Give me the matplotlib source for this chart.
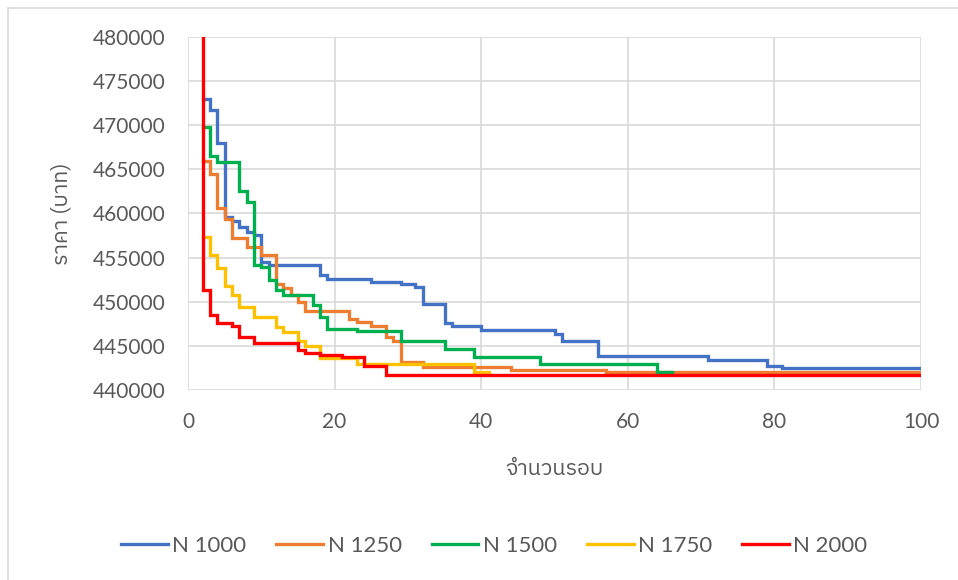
import matplotlib
matplotlib.use('Agg')
import matplotlib.pyplot as plt
from matplotlib.lines import Line2D

# iteration (x) and cost (y) at each step change, last entry = end of run
n1000_x = [2, 3, 4, 5, 6, 7, 8, 9, 10, 11, 18, 19, 25, 29, 31, 32, 35, 36, 40, 50, 51, 56, 71, 75, 79, 81, 100]
n1000_y = [473000, 471700, 468000, 459600, 459200, 458500, 457900, 457600, 454500, 454200, 453000, 452550,
           452250, 452050, 451700, 449800, 447550, 447250, 446800, 446400, 445500, 443800, 443450, 443350,
           442700, 442450, 442450]

n1250_x = [2, 3, 4, 5, 6, 8, 10, 12, 13, 14, 15, 16, 22, 23, 25, 27, 28, 29, 32, 44, 57, 100]
n1250_y = [466000, 464500, 460600, 459400, 457200, 456200, 455300, 452000, 451600, 450800, 450000, 448900,
           448100, 447700, 447200, 446000, 445600, 443200, 442550, 442250, 442050, 442050]

n1500_x = [2, 3, 4, 7, 8, 9, 10, 11, 12, 13, 17, 18, 19, 23, 29, 35, 39, 48, 64, 66]
n1500_y = [469800, 466500, 465800, 462600, 461300, 454200, 453950, 452450, 451300, 450750, 449600, 448300,
           446950, 446700, 445600, 444700, 443750, 442950, 442050, 442050]

n1750_x = [2, 3, 4, 5, 6, 7, 9, 12, 13, 15, 16, 18, 23, 39, 41]
n1750_y = [457300, 455300, 453800, 451800, 450750, 449450, 448300, 447100, 446600, 445600, 445000, 443600,
           443000, 442050, 442050]

n2000_x = [2, 2, 3, 4, 6, 7, 9, 15, 16, 18, 21, 24, 27, 100]
n2000_y = [520000, 451300, 448500, 447600, 447250, 446000, 445300, 444500, 444200, 443950, 443700, 442700,
           441650, 441650]

series = [
    ('N 1000', n1000_x, n1000_y, '#4472C4'),
    ('N 1250', n1250_x, n1250_y, '#ED7D31'),
    ('N 1500', n1500_x, n1500_y, '#00B050'),
    ('N 1750', n1750_x, n1750_y, '#FFC000'),
    ('N 2000', n2000_x, n2000_y, '#FF0000'),
]

plt.rcParams['font.family'] = ['Lato', 'IBM Plex Sans Thai', 'DejaVu Sans']
text_col = '#595959'
thai = ['IBM Plex Sans Thai', 'Lato', 'DejaVu Sans']

fig = plt.figure(figsize=(9.58, 5.8), dpi=100)
ax = fig.add_axes([188 / 958, 1 - 390 / 580, (921 - 188) / 958, (390 - 37) / 580])

for name, xs, ys, col in series:
    ax.plot(xs, ys, drawstyle='steps-post', color=col, lw=2.4, label=name,
            solid_joinstyle='miter')

ax.set_xlim(0, 100)
ax.set_ylim(440000, 480000)
ax.set_xticks(range(0, 101, 20))
ax.set_yticks(range(440000, 480001, 5000))
ax.grid(True, color='#d9d9d9', lw=1.2)
ax.set_axisbelow(True)
for s in ax.spines.values():
    s.set_visible(False)
ax.tick_params(length=0, labelsize=15, labelcolor=text_col, pad=16)

ax.set_ylabel('ราคา (บาท)', fontsize=15.5, color=text_col, family=thai)
ax.yaxis.set_label_coords(-0.157, 0.5)
ax.set_xlabel('จำนวนรอบ', fontsize=15.5, color=text_col, family=thai)
ax.xaxis.set_label_coords(0.5, -0.193)

leg = fig.legend(loc='center', bbox_to_anchor=(0.516, 1 - 546 / 580), ncol=5, frameon=False,
                 fontsize=16, handlelength=2.1, handletextpad=0.2, columnspacing=1.35)
for t in leg.get_texts():
    t.set_color(text_col)

# chart area frame (only top and left edges visible in the screenshot)
fig.add_artist(Line2D([8 / 958, 1], [1 - 8 / 580, 1 - 8 / 580], color='#d9d9d9', lw=1.2))
fig.add_artist(Line2D([8 / 958, 8 / 958], [0, 1 - 8 / 580], color='#d9d9d9', lw=1.2))

fig.savefig('out.png', dpi=100)
